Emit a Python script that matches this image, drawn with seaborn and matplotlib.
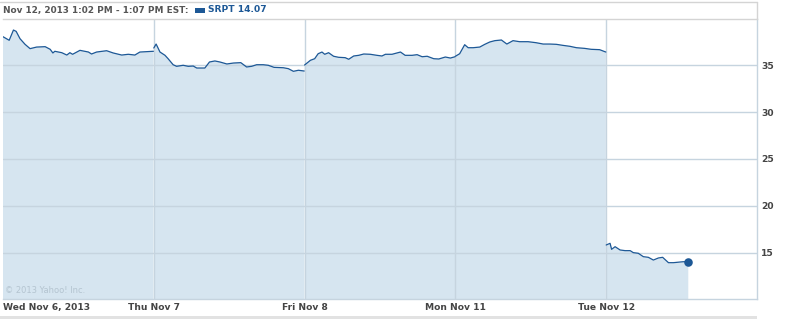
import numpy as np
import pandas as pd
import matplotlib
matplotlib.use("Agg")
import matplotlib.pyplot as plt
from matplotlib.patches import Rectangle
from matplotlib.lines import Line2D
import seaborn as sns

# ---------------- data ----------------
day_labels = ["Wed Nov 6, 2013", "Thu Nov 7", "Fri Nov 8", "Mon Nov 11", "Tue Nov 12"]
y_ticks = [15, 20, 25, 30, 35]

# minutes after the 9:30 open, and SRPT price
wed_min = [0, 16, 27, 34, 44, 57, 70, 87, 109, 122, 129, 134, 152, 165, 173, 180, 199, 221,
           229, 242, 268, 285, 307, 324, 341, 354, 389]
wed_px = [38.01, 37.63, 38.72, 38.58, 37.80, 37.20, 36.74, 36.91, 36.95, 36.67, 36.28, 36.46,
          36.31, 36.06, 36.31, 36.14, 36.56, 36.38, 36.17, 36.38, 36.52, 36.28, 36.06, 36.14,
          36.06, 36.38, 36.46]

thu_min = [0, 6, 16, 29, 37, 50, 59, 76, 89, 102, 111, 132, 144, 158, 171, 189, 206, 225,
           240, 253, 266, 283, 296, 311, 335, 348, 361, 374, 389]
thu_px = [36.81, 37.23, 36.38, 36.03, 35.67, 35.03, 34.86, 34.97, 34.86, 34.89, 34.68, 34.68,
          35.32, 35.43, 35.32, 35.11, 35.21, 35.25, 34.79, 34.86, 35.03, 35.03, 34.97, 34.75,
          34.71, 34.61, 34.33, 34.44, 34.36]

fri_min = [0, 15, 26, 35, 45, 52, 62, 75, 88, 105, 114, 127, 140, 153, 170, 187, 200, 209,
           226, 248, 260, 278, 291, 304, 317, 334, 347, 364, 377, 389]
fri_px = [35.00, 35.50, 35.67, 36.20, 36.38, 36.14, 36.31, 35.93, 35.82, 35.78, 35.61, 35.96,
          36.03, 36.17, 36.14, 36.03, 35.96, 36.14, 36.14, 36.38, 36.03, 36.03, 36.10, 35.88,
          35.93, 35.67, 35.64, 35.85, 35.74, 35.88]

mon_min = [0, 11, 24, 33, 46, 63, 76, 89, 102, 119, 133, 149, 166, 188, 209, 227, 244, 261,
           278, 296, 313, 334, 351, 373, 389]
mon_px = [35.93, 36.20, 37.16, 36.84, 36.84, 36.91, 37.20, 37.45, 37.59, 37.66, 37.23, 37.59,
          37.48, 37.48, 37.37, 37.23, 37.23, 37.20, 37.09, 36.99, 36.84, 36.77, 36.67, 36.63,
          36.38]

tue_min = [0, 10, 14, 23, 36, 49, 62, 70, 83, 96, 109, 122, 135, 146, 161, 174, 191, 199, 211]
tue_px = [15.85, 16.03, 15.39, 15.67, 15.32, 15.25, 15.25, 15.04, 14.97, 14.61, 14.54, 14.25,
          14.47, 14.54, 13.97, 13.97, 14.04, 14.07, 14.07]

session_minutes = 390

frames = []
for i, (mins, px) in enumerate([(wed_min, wed_px), (thu_min, thu_px), (fri_min, fri_px),
                                (mon_min, mon_px), (tue_min, tue_px)]):
    frames.append(pd.DataFrame({"day": i,
                                "t": i + np.array(mins) / session_minutes,
                                "price": px}))
df = pd.concat(frames, ignore_index=True)

# ---------------- style ----------------
LINE = "#1d5896"
FILL = "#d6e5f0"
GRID = "#c6d4df"
TXT = "#444444"

sns.set_theme(style="white")
plt.rcParams["font.family"] = ["DejaVu Sans"]

W, H = 805, 319
fig = plt.figure(figsize=(W / 100, H / 100), dpi=100)
ax = fig.add_axes([3 / W, 20 / H, 754 / W, 280 / H])

ax.set_xlim(0, 5)
ax.set_ylim(10.106, 39.894)

for d, g in df.groupby("day"):
    ax.fill_between(g["t"], 0, g["price"], color=FILL, lw=0, zorder=1)

for y in y_ticks:
    ax.axhline(y, color=GRID, lw=1, zorder=2)
for x in range(1, 5):
    ax.axvline(x, color=GRID, lw=1, zorder=2)

sns.lineplot(data=df, x="t", y="price", units="day", estimator=None, color=LINE,
             lw=0.9, ax=ax, zorder=3)
last = df.iloc[[-1]]
sns.scatterplot(data=last, x="t", y="price", color=LINE, s=38, edgecolor=LINE,
                linewidth=0, ax=ax, zorder=4)

ax.set_xlabel("")
ax.set_ylabel("")
ax.yaxis.tick_right()
ax.set_yticks(y_ticks)
ax.set_yticklabels([str(v) for v in y_ticks])
ax.set_xticks(range(5))
ax.set_xticklabels(day_labels)
ax.tick_params(axis="both", length=0, labelsize=6.6, colors=TXT)
ax.tick_params(axis="x", pad=3)
ax.tick_params(axis="y", pad=3)
for lab in ax.get_xticklabels() + ax.get_yticklabels():
    lab.set_fontweight("bold")
ax.get_xticklabels()[0].set_horizontalalignment("left")

ax.spines["left"].set_visible(False)
ax.spines["top"].set_color("#d4d4d4")
ax.spines["right"].set_color(GRID)
ax.spines["bottom"].set_color(GRID)
for s in ["top", "right", "bottom"]:
    ax.spines[s].set_linewidth(1)

# header box
fig.add_artist(Line2D([0, 757 / W], [1 - 1.5 / H, 1 - 1.5 / H], color="#d4d4d4", lw=1))
fig.add_artist(Line2D([757 / W, 757 / W], [1 - 1.5 / H, 300 / H], color="#d4d4d4", lw=1))
# bottom band
fig.add_artist(Rectangle((0, 0), 757 / W, 3 / H, color="#e2e2e2", lw=0))

fig.text(3 / W, 1 - 10 / H, "Nov 12, 2013 1:02 PM - 1:07 PM EST:", fontsize=6.4,
         fontweight="bold", color="#555555", va="center", ha="left")
fig.add_artist(Rectangle((195 / W, 1 - 12.5 / H), 10 / W, 4.5 / H, color=LINE, lw=0))
fig.text(208 / W, 1 - 10 / H, "SRPT 14.07", fontsize=6.6, fontweight="bold",
         color=LINE, va="center", ha="left")

ax.text(0.003, 0.03, "\u00a9 2013 Yahoo! Inc.", transform=ax.transAxes, fontsize=6,
        color="#b4c4d0", ha="left", va="center", zorder=5)

fig.savefig("out.png", dpi=100)
